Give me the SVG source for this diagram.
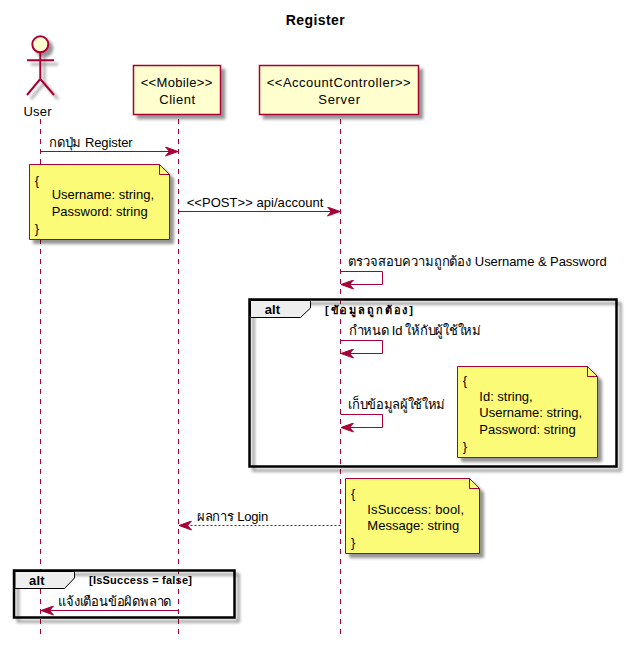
<svg xmlns="http://www.w3.org/2000/svg" width="626" height="646" viewBox="0 0 626 646">
<style>
text{font-family:"Liberation Sans","Noto Sans",sans-serif;font-size:13px;fill:#000}
.t{font-weight:bold;font-size:14px}
.fl{font-weight:bold;font-size:11px}
.fa{font-weight:bold;font-size:13px}
.life{stroke:#A80036;stroke-width:1;stroke-dasharray:5 5;fill:none}
.box{fill:#FEFECE;stroke:#A80036;stroke-width:1.5}
.note{fill:#FBFB77;stroke:#A80036;stroke-width:1}
.fold{fill:#FBFB77;stroke:#A80036;stroke-width:1}
.msg{fill:none;stroke:#A80036;stroke-width:1}
.frame{fill:none;stroke:#000;stroke-width:2.5}
.tab{fill:#EEEEEE;stroke:#000;stroke-width:1}
.actor{fill:none;stroke:#A80036;stroke-width:2}
</style>
<defs>
<filter id="sh" x="-20%" y="-20%" width="150%" height="150%"><feDropShadow dx="4" dy="4" stdDeviation="1.6" flood-color="#000" flood-opacity="0.42"/></filter>
<marker id="ah" viewBox="0 0 14 10" refX="13" refY="5" markerWidth="14" markerHeight="10" markerUnits="userSpaceOnUse" orient="auto-start-reverse"><path d="M0.500 0.500L13 5L0.500 9.500L4.500 5Z" fill="#A80036" stroke="#A80036" stroke-width="1"/></marker>
</defs>
<rect width="626" height="646" fill="#fff"/>
<text class="t" x="285.700" y="25" textLength="59">Register</text>
<g id="lifelines">
<line class="life" x1="40.500" y1="119" x2="40.500" y2="636"/>
<line class="life" x1="178.500" y1="119" x2="178.500" y2="636"/>
<line class="life" x1="340.500" y1="119" x2="340.500" y2="636"/>
</g>
<g id="user">
<g filter="url(#sh)"><circle cx="40.300" cy="44.300" r="8" fill="#FEFECE" stroke="#A80036" stroke-width="2"/>
<path class="actor" d="M40.300 52.300V79M27 60.300H54M40.300 79L27 95M40.300 79L54 95"/></g>
<text x="23.500" y="116" textLength="28">User</text>
</g>
<g id="client">
<rect class="box" x="133.500" y="65.500" width="87" height="49" filter="url(#sh)"/>
<text x="140.700" y="87" textLength="71.600">&lt;&lt;Mobile&gt;&gt;</text>
<text x="159.300" y="104" textLength="35.700">Client</text>
</g>
<g id="server">
<rect class="box" x="259.500" y="65.500" width="159" height="49" filter="url(#sh)"/>
<text x="266.700" y="87" textLength="144">&lt;&lt;AccountController&gt;&gt;</text>
<text x="318.300" y="104" textLength="41.700">Server</text>
</g>
<g id="frame1">
<rect class="frame" x="249.500" y="299.500" width="367" height="167" filter="url(#sh)"/>
<path class="tab" d="M250.500 300.500H310.500V308L300.500 317.500H250.500Z"/>
<text class="fa" x="264.700" y="314" textLength="15.500">alt</text>
<text class="fl" x="325" y="313.500" textLength="88">[ข้อมูลถูกต้อง]</text>
</g>
<g id="frame2">
<rect class="frame" x="14" y="570.500" width="220.500" height="47" filter="url(#sh)"/>
<path class="tab" d="M15 571.500H74.500V578L64.500 588.500H15Z"/>
<text class="fa" x="29" y="584.500" textLength="15.500">alt</text>
<text class="fl" x="89" y="584" textLength="103">[IsSuccess = false]</text>
</g>
<g id="connectors">
<line class="msg" x1="40.500" y1="151.500" x2="178" y2="151.500" marker-end="url(#ah)"/>
<line class="msg" x1="178.500" y1="211.500" x2="340" y2="211.500" marker-end="url(#ah)"/>
<path class="msg" d="M340.500 271.500H382.500V284.500H341" marker-end="url(#ah)"/>
<path class="msg" d="M340.500 340.500H382.500V353.500H341" marker-end="url(#ah)"/>
<path class="msg" d="M340.500 414.500H382.500V427.500H341" marker-end="url(#ah)"/>
<line class="msg" x1="340.500" y1="525.500" x2="179" y2="525.500" stroke-dasharray="2 2" marker-end="url(#ah)"/>
<line class="msg" x1="178.500" y1="610.500" x2="41" y2="610.500" marker-end="url(#ah)"/>
</g>
<g id="labels">
<text x="48.700" y="146.700" textLength="84">กดปุ่ม Register</text>
<text x="186.700" y="206.700" textLength="136.700">&lt;&lt;POST&gt;&gt; api/account</text>
<text x="348.300" y="265.700" textLength="258.400">ตรวจสอบความถูกต้อง Username &amp; Password</text>
<text x="348.300" y="335" textLength="132.400">กำหนด Id ให้กับผู้ใช้ใหม่</text>
<text x="348.300" y="409.300" textLength="97">เก็บข้อมูลผู้ใช้ใหม่</text>
<text x="196.700" y="521" textLength="71.600">ผลการ Login</text>
<text x="58.300" y="606" textLength="113">แจ้งเตือนข้อผิดพลาด</text>
</g>
<g id="note1">
<path class="note" filter="url(#sh)" d="M29.500 164.500H159.500L169.500 174.500V239.500H29.500Z"/>
<path class="fold" d="M159.500 164.500V174.500H169.500Z"/>
<text x="34.700" y="185">{</text><text x="51.700" y="199" textLength="102.300">Username: string,</text><text x="51.700" y="216" textLength="96">Password: string</text><text x="34.700" y="233">}</text>
</g>
<g id="note2">
<path class="note" filter="url(#sh)" d="M457.500 366.500H587.500L597.500 376.500V457.500H457.500Z"/>
<path class="fold" d="M587.500 366.500V376.500H597.500Z"/>
<text x="462.700" y="385">{</text><text x="479.300" y="401" textLength="53.400">Id: string,</text><text x="479.300" y="417" textLength="102.700">Username: string,</text><text x="479.300" y="434" textLength="96.400">Password: string</text><text x="462.700" y="451">}</text>
</g>
<g id="note3">
<path class="note" filter="url(#sh)" d="M345.500 478.500H469.500L479.500 488.500V553.500H345.500Z"/>
<path class="fold" d="M469.500 478.500V488.500H479.500Z"/>
<text x="351" y="498">{</text><text x="367.300" y="514" textLength="96.700">IsSuccess: bool,</text><text x="367.300" y="530" textLength="92">Message: string</text><text x="351" y="547">}</text>
</g>
</svg>
